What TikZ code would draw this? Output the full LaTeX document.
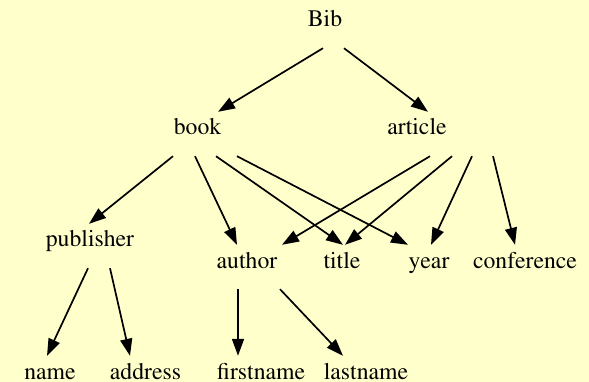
\documentclass[tikz,border=0pt]{standalone}
\usepackage[T1]{fontenc}
\renewcommand{\rmdefault}{ptm}
\usepackage{xcolor}
\usetikzlibrary{arrows.meta}
\definecolor{paper}{HTML}{FFFFCC}
\tikzset{>={Triangle[length=17pt,width=12pt]}}
\tikzset{
  field/.style={inner sep=0pt, text height=23pt, text depth=21pt, anchor=base,
    font=\fontsize{23.7}{28}\selectfont},
  link/.style={->, line width=1.7pt}
}

\begin{document}
\begin{tikzpicture}[x=1pt,y=1pt]
    \fill[paper] (0,0) rectangle (589,-382);
    \useasboundingbox (0,0) rectangle (589,-382);
    % rows of the tree
    \node[field] (bib) at (325,-27) {Bib};
    \node[field] (book) at (197.5,-135) {book};
    \node[field] (art) at (417,-135) {article};
    \node[field] (pub) at (90,-247) {publisher};
    \node[field] (auth) at (247,-268) {author};
    \node[field] (tit) at (342,-268) {title};
    \node[field] (yr) at (429,-268) {year};
    \node[field] (conf) at (525,-268) {conference};
    \node[field] (nm) at (50,-379) {name};
    \node[field] (addr) at (145.5,-379) {address};
    \node[field] (first) at (261,-379) {firstname};
    \node[field] (last) at (366,-379) {lastname};
    % edges
    \draw[link] ([xshift=-2pt]bib.south) -- ([xshift=20.5pt]book.north);
    \draw[link] ([xshift=19pt]bib.south) -- ([xshift=11pt]art.north);
    \draw[link] ([xshift=-24.5pt]book.south) -- ([xshift=-1pt]pub.north);
    \draw[link] ([xshift=-2.5pt]book.south) -- ([xshift=-10pt]auth.north);
    \draw[link] ([xshift=18.5pt]book.south) -- ([xshift=1pt]tit.north);
    \draw[link] ([xshift=39.5pt]book.south) -- ([xshift=-21pt]yr.north);
    \draw[link] ([xshift=13pt]art.south) -- ([xshift=35pt]auth.north);
    \draw[link] ([xshift=35pt]art.south) -- ([xshift=3pt]tit.north);
    \draw[link] ([xshift=55pt]art.south) -- ([xshift=2pt]yr.north);
    \draw[link] ([xshift=76pt]art.south) -- ([xshift=-10pt]conf.north);
    \draw[link] ([xshift=-2pt]pub.south) -- ([xshift=-3pt]nm.north);
    \draw[link] ([xshift=20pt]pub.south) -- ([xshift=-15.5pt]addr.north);
    \draw[link] ([xshift=-9pt]auth.south) -- ([xshift=-23pt]first.north);
    \draw[link] ([xshift=33pt]auth.south) -- ([xshift=-23pt]last.north);
  \end{tikzpicture}
\end{document}
